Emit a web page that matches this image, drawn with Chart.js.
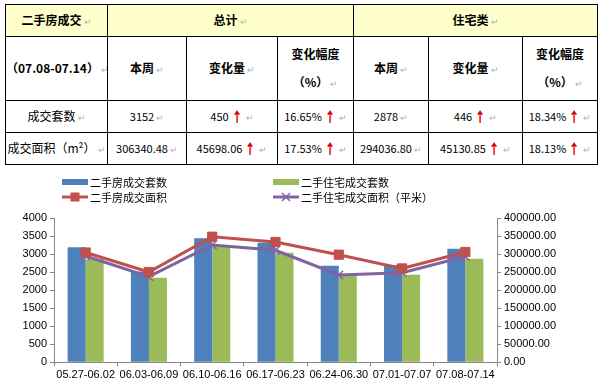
<!DOCTYPE html>
<html><head><meta charset="utf-8">
<script src="https://cdn.jsdelivr.net/npm/chart.js@4"></script>
<style>
html,body{margin:0;padding:0;background:#fff;width:602px;height:385px;overflow:hidden;}
#tbl{position:absolute;left:5px;top:4px;width:592px;border-collapse:collapse;table-layout:fixed;font-family:"Noto Sans CJK SC",sans-serif;font-size:12px;color:#000;}
#tbl td{border:1px solid #000;text-align:center;vertical-align:middle;padding:0;line-height:14px;white-space:nowrap;overflow:hidden;}
#tbl tr.h td{background:#FFFFCC;}
#tbl .b{font-weight:bold;}
.p{color:#b0b0b0;font-size:9px;margin-left:2px;font-weight:normal;}
.u{color:#e00000;font-weight:900;font-family:"Noto Sans CJK SC",sans-serif;font-size:14px;margin-left:1px;display:inline-block;transform:scaleX(0.8);line-height:12px;vertical-align:-1px;}
.n{font-size:11px;}
.two{line-height:28px !important;}
#wrap{position:absolute;left:0;top:165px;width:602px;height:220px;}
</style></head>
<body>
<table id="tbl">
<colgroup><col style="width:102px"><col style="width:79px"><col style="width:91px"><col style="width:76px"><col style="width:75px"><col style="width:94px"><col style="width:75px"></colgroup>
<tbody id="tb"></tbody>
</table>
<div id="wrap"><canvas id="c" width="602" height="220"></canvas></div>
<script>
// ---- data ----
const categories = ['05.27-06.02','06.03-06.09','06.10-06.16','06.17-06.23','06.24-06.30','07.01-07.07','07.08-07.14'];
const allSets = [3195, 2520, 3445, 3320, 2685, 2702, 3152];
const resSets = [2860, 2350, 3230, 3045, 2420, 2432, 2878];
const allArea = [305000, 250800, 348900, 334200, 299000, 260642.42, 306340.48];
const resArea = [295300, 237800, 325800, 311100, 242500, 248905.95, 294036.80];
const countTicks = [0,500,1000,1500,2000,2500,3000,3500,4000];
const areaTicks = [0,50000,100000,150000,200000,250000,300000,350000,400000];
const seriesNames = ['二手房成交套数','二手住宅成交套数','二手房成交面积','二手住宅成交面积（平米）'];

const headRow1 = ['二手房成交','总计','住宅类'];
const headRow2 = ['（07.08-07.14）','本周','变化量','变化幅度|（%）','本周','变化量','变化幅度|（%）'];
const rowLabels = ['成交套数','成交面积（m²）'];
const rowThisWeek = [['3152','2878'],['306340.48','294036.80']];
const rowChange = [['450','446'],['45698.06','45130.85']];
const rowPct = [['16.65%','18.34%'],['17.53%','18.13%']];

// ---- table ----
const P = '<span class="p">↵</span>';
const U = '<span class="u">↑</span>';
let html = '<tr class="h" style="height:32px"><td class="b">'+headRow1[0]+P+'</td><td class="b" colspan="3">'+headRow1[1]+P+'</td><td class="b" colspan="3">'+headRow1[2]+P+'</td></tr>';
html += '<tr style="height:64px">' + headRow2.map(t=>{
  if(t.includes('|')){const a=t.split('|');return '<td class="b two">'+a[0]+'<br>'+a[1]+P+'</td>';}
  return '<td class="b">'+t+P+'</td>';
}).join('') + '</tr>';
for(let r=0;r<rowLabels.length;r++){
  html += '<tr style="height:32px"><td>'+rowLabels[r]+P+'</td>';
  for(let g=0;g<2;g++){
    html += '<td class="n">'+rowThisWeek[r][g]+P+'</td>';
    html += '<td class="n">'+rowChange[r][g]+U+P+'</td>';
    html += '<td class="n">'+rowPct[r][g]+U+P+'</td>';
  }
  html += '</tr>';
}
document.getElementById('tb').innerHTML = html;

// ---- chart ----
const legendPos = [[62,17],[273,17],[62,32],[273,32]];
const customLegend = {
  id:'customLegend',
  afterDraw(chart){
    const ctx = chart.ctx;
    chart.data.datasets.forEach((ds,i)=>{
      const [x,y] = legendPos[i];
      ctx.save();
      if(ds.type==='line'){
        ctx.strokeStyle = ds.borderColor; ctx.lineWidth = 3;
        ctx.beginPath(); ctx.moveTo(x,y); ctx.lineTo(x+26,y); ctx.stroke();
        const cx = x+13;
        if(ds.pointStyle==='rect'){
          ctx.fillStyle = ds.borderColor; ctx.fillRect(cx-4.5,y-4.5,9,9);
        } else {
          ctx.lineWidth = 1.5; ctx.beginPath();
          ctx.moveTo(cx-4,y-4); ctx.lineTo(cx+4,y+4);
          ctx.moveTo(cx-4,y+4); ctx.lineTo(cx+4,y-4); ctx.stroke();
        }
      } else {
        ctx.fillStyle = ds.backgroundColor; ctx.fillRect(x,y-3,26,6);
      }
      ctx.fillStyle = '#000'; ctx.font = '11px "Noto Sans CJK SC"'; ctx.textBaseline = 'middle';
      ctx.fillText(ds.label, x+28, y+1);
      ctx.restore();
    });
  }
};
const axisColor = '#868686';
const tickFont = {family:'"Liberation Sans", Arial, sans-serif', size:11};
new Chart(document.getElementById('c'), {
  type:'bar',
  data:{
    labels:categories,
    datasets:[
      {type:'bar',label:seriesNames[0],data:allSets,backgroundColor:'#4F81BD',yAxisID:'y',order:2,categoryPercentage:0.57,barPercentage:1.0},
      {type:'bar',label:seriesNames[1],data:resSets,backgroundColor:'#9BBB59',yAxisID:'y',order:2,categoryPercentage:0.57,barPercentage:1.0},
      {type:'line',label:seriesNames[2],data:allArea,borderColor:'#C0504D',backgroundColor:'#C0504D',borderWidth:3,pointStyle:'rect',pointRadius:6.5,pointBackgroundColor:'#C0504D',pointBorderColor:'#C0504D',pointBorderWidth:1,tension:0,yAxisID:'y1',order:1},
      {type:'line',label:seriesNames[3],data:resArea,borderColor:'#8064A2',backgroundColor:'#8064A2',borderWidth:3,pointStyle:'crossRot',pointRadius:6,pointBorderColor:'#8064A2',pointBorderWidth:1.5,tension:0,yAxisID:'y1',order:1}
    ]
  },
  options:{
    responsive:false, animation:false,
    layout:{padding:{top:53.3,left:0,right:0,bottom:0}},
    plugins:{legend:{display:false},tooltip:{enabled:false}},
    scales:{
      x:{
        offset:true,
        grid:{display:true,drawOnChartArea:false,drawTicks:true,tickLength:4,color:axisColor,offset:true},
        border:{display:true,color:axisColor,width:1},
        ticks:{font:tickFont,color:'#000',maxRotation:0,minRotation:0,autoSkip:false,padding:2},
        afterFit(s){s.height=22.7;}
      },
      y:{
        position:'left',min:0,max:4000,
        afterBuildTicks(s){s.ticks=countTicks.map(v=>({value:v}));},
        grid:{display:true,drawOnChartArea:false,drawTicks:true,tickLength:4,color:axisColor},
        border:{display:true,color:axisColor,width:1},
        ticks:{font:tickFont,color:'#000',padding:3,callback:v=>String(v)},
        afterFit(s){s.width=54;}
      },
      y1:{
        position:'right',min:0,max:400000,
        afterBuildTicks(s){s.ticks=areaTicks.map(v=>({value:v}));},
        grid:{display:true,drawOnChartArea:false,drawTicks:true,tickLength:4,color:axisColor},
        border:{display:true,color:axisColor,width:1},
        ticks:{font:tickFont,color:'#000',padding:3,callback:v=>Number(v).toFixed(2)},
        afterFit(s){s.width=105;}
      }
    }
  },
  plugins:[customLegend]
});
</script>
</body></html>
